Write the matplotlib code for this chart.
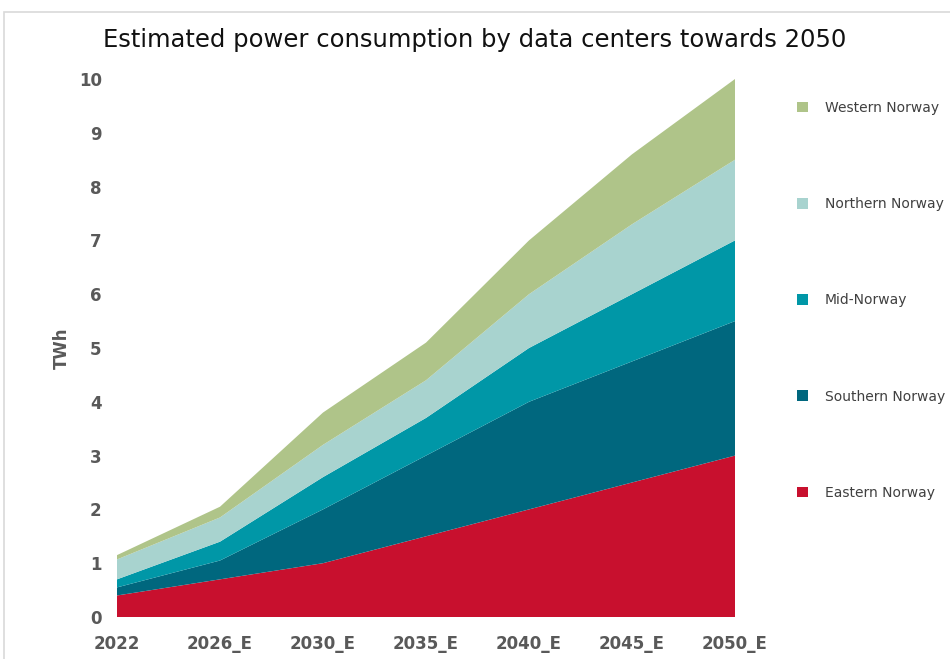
import numpy as np
import matplotlib
matplotlib.use("Agg")
import matplotlib.pyplot as plt
from matplotlib.patches import Rectangle, Patch

# data (TWh)
years = ["2022", "2026_E", "2030_E", "2035_E", "2040_E", "2045_E", "2050_E"]
eastern = [0.40, 0.70, 1.00, 1.50, 2.00, 2.50, 3.00]
southern = [0.15, 0.35, 1.00, 1.50, 2.00, 2.25, 2.50]
mid = [0.15, 0.35, 0.60, 0.70, 1.00, 1.25, 1.50]
northern = [0.37, 0.45, 0.60, 0.70, 1.00, 1.30, 1.50]
western = [0.08, 0.20, 0.60, 0.70, 1.00, 1.30, 1.50]

series = ["Eastern Norway", "Southern Norway", "Mid-Norway", "Northern Norway", "Western Norway"]
colors = ["#C8102E", "#00677E", "#0097A7", "#A8D3CF", "#AFC489"]

fig = plt.figure(figsize=(9.5, 6.59), dpi=100)
ax = fig.add_axes([117 / 950, 1 - 617 / 659, (735 - 117) / 950, (617 - 79) / 659])

x = np.arange(len(years))
ax.stackplot(x, eastern, southern, mid, northern, western, colors=colors, linewidth=0)

ax.set_xlim(0, len(years) - 1)
ax.set_ylim(0, 10)
ax.set_xticks(x)
ax.set_xticklabels(years)
ax.set_yticks(range(0, 11))
for s in ax.spines.values():
    s.set_visible(False)
ax.tick_params(length=0, labelsize=12, colors="#595959", pad=13)
for lab in ax.get_xticklabels() + ax.get_yticklabels():
    lab.set_fontweight("bold")
ax.tick_params(axis="y", pad=11)
ax.set_ylabel("TWh", fontsize=12, fontweight="bold", color="#595959", labelpad=6)

fig.text(0.5, 1 - 40 / 659, "Estimated power consumption by data centers towards 2050",
         ha="center", va="center", fontsize=17.5, color="#111111")

handles = [Patch(facecolor=c, label=l) for c, l in zip(colors, series)][::-1]
leg = fig.legend(handles=handles, loc="upper left", bbox_to_anchor=(790 / 950, 1 - 94 / 659),
                 frameon=False, fontsize=10, labelspacing=5.92, handlelength=0.8,
                 handleheight=0.8, handletextpad=1.2, borderpad=0)
for t in leg.get_texts():
    t.set_color("#404040")

# light frame around the chart
fig.patches.append(Rectangle((4 / 950, -0.05), 1.1, 1 - 12 / 659 + 0.05, transform=fig.transFigure,
                             fill=False, edgecolor="#D9D9D9", linewidth=1.2))

fig.savefig("out.png", dpi=100)
